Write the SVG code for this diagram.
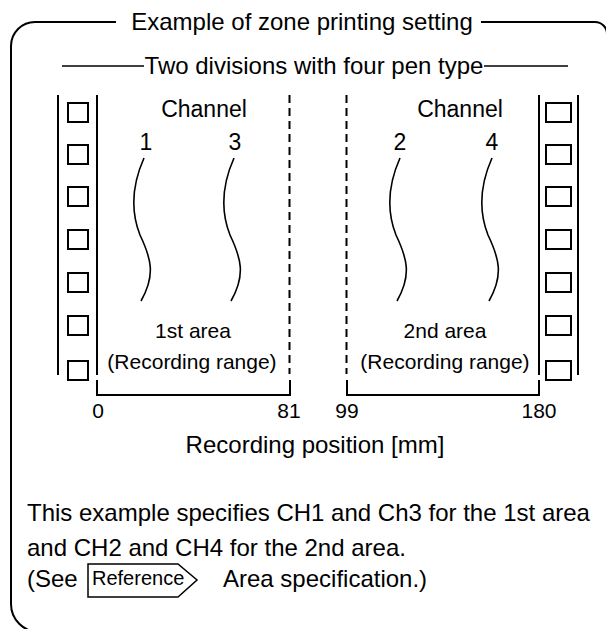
<svg xmlns="http://www.w3.org/2000/svg" xmlns:xlink="http://www.w3.org/1999/xlink" width="606" height="629" viewBox="0 0 606 629">
<style>
text{font-family:"Liberation Sans",Arial,sans-serif;fill:#000}
.t24{font-size:24px}
.t23{font-size:23px}
.t21{font-size:21px}
.t20{font-size:20px}
.ln{fill:none;stroke:#000;stroke-width:2}
.thin{fill:none;stroke:#000;stroke-width:1.5}
.sq{fill:#fff;stroke:#000;stroke-width:2}
.dash{fill:none;stroke:#000;stroke-width:2;stroke-dasharray:8 5}
.mid{text-anchor:middle}
</style>
<defs>
<path id="wave" d="M0,0 c-12,27 -13,54 -4,77 c11,23 16,40 1,66" fill="none" stroke="#000" stroke-width="1.6"/>
<rect id="sqL" width="20" height="19" class="sq"/>
<rect id="sqR" width="25" height="19" class="sq"/>
</defs>
<rect width="606" height="629" fill="#fff"/>
<g id="frame">
<path class="ln" d="M116,22 H35 A24 24 0 0 0 11,46 V604 A28 28 0 0 0 39,632"/>
<path class="ln" d="M481,22 H595 A12 12 0 0 1 607,34 V640"/>
<text class="t24 mid" x="302" y="30">Example of zone printing setting</text>
</g>
<g id="subtitle">
<path class="thin" d="M62,66 H144 M484,66 H568"/>
<text class="t24 mid" x="314" y="74">Two divisions with four pen type</text>
</g>
<g id="left-strip">
<path class="ln" d="M58,95 V375 M97,95 V375"/>
<use xlink:href="#sqL" x="68" y="103"/>
<use xlink:href="#sqL" x="68" y="145"/>
<use xlink:href="#sqL" x="68" y="187"/>
<use xlink:href="#sqL" x="68" y="230"/>
<use xlink:href="#sqL" x="68" y="273"/>
<use xlink:href="#sqL" x="68" y="316"/>
<use xlink:href="#sqL" x="68" y="361"/>
</g>
<g id="right-strip">
<path class="ln" d="M539,95 V375 M578,95 V375"/>
<use xlink:href="#sqR" x="546" y="103"/>
<use xlink:href="#sqR" x="546" y="145"/>
<use xlink:href="#sqR" x="546" y="187"/>
<use xlink:href="#sqR" x="546" y="230"/>
<use xlink:href="#sqR" x="546" y="273"/>
<use xlink:href="#sqR" x="546" y="316"/>
<use xlink:href="#sqR" x="546" y="361"/>
</g>
<g id="area1">
<text class="t23 mid" x="204" y="117">Channel</text>
<text class="t23 mid" x="146" y="150">1</text>
<text class="t23 mid" x="235" y="150">3</text>
<use xlink:href="#wave" x="144" y="158"/>
<use xlink:href="#wave" x="234" y="158"/>
<text class="t21 mid" x="193" y="338">1st area</text>
<text class="t21 mid" x="192" y="369">(Recording range)</text>
</g>
<g id="area2">
<text class="t23 mid" x="460" y="117">Channel</text>
<text class="t23 mid" x="400" y="150">2</text>
<text class="t23 mid" x="492" y="150">4</text>
<use xlink:href="#wave" x="400" y="158"/>
<use xlink:href="#wave" x="492" y="158"/>
<text class="t21 mid" x="445" y="338">2nd area</text>
<text class="t21 mid" x="445" y="369">(Recording range)</text>
</g>
<g id="connectors">
<path class="dash" d="M289.5,95 V374 M346.5,95 V374"/>
<path class="ln" d="M97,380 V395 H290 V380 M347,380 V395 H539 V380"/>
</g>
<g id="scale">
<text class="t21 mid" x="98" y="418">0</text>
<text class="t21 mid" x="289" y="418">81</text>
<text class="t21 mid" x="347" y="418">99</text>
<text class="t21 mid" x="539" y="418">180</text>
<text class="t24 mid" x="315" y="453">Recording position [mm]</text>
</g>
<g id="note">
<text class="t24" x="27" y="521">This example specifies CH1 and Ch3 for the 1st area</text>
<text class="t24" x="27" y="556">and CH2 and CH4 for the 2nd area.</text>
<text class="t24" x="27" y="587">(See</text>
<path class="thin" d="M88,564 H178 L197,580 L178,597 H88 Z"/>
<text class="t20" x="92" y="585">Reference</text>
<text class="t24" x="223" y="587">Area specification.)</text>
</g>
</svg>
